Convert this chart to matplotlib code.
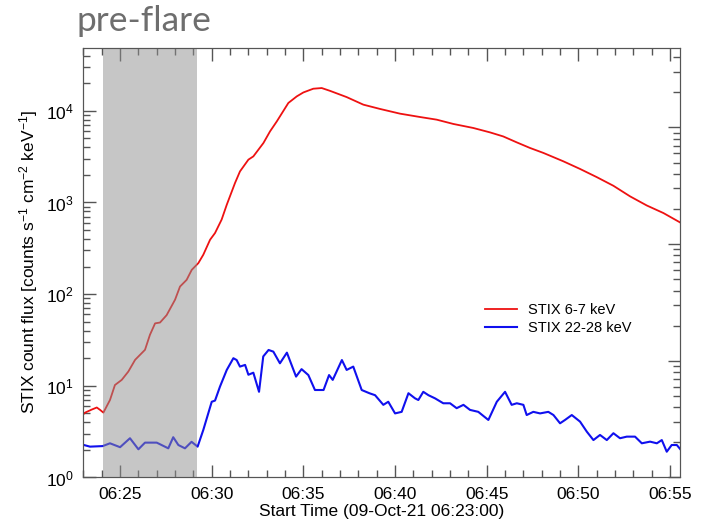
import datetime as dt

import matplotlib
matplotlib.use("Agg")
import matplotlib.pyplot as plt
from matplotlib.ticker import FuncFormatter, MultipleLocator

plt.rcParams["font.family"] = ["Liberation Sans", "DejaVu Sans"]
plt.rcParams["mathtext.fontset"] = "custom"
plt.rcParams["mathtext.rm"] = "Liberation Sans"
plt.rcParams["mathtext.it"] = "Liberation Sans"
plt.rcParams["mathtext.bf"] = "Liberation Sans:bold"

start = dt.datetime(2021, 10, 9, 6, 23, 0)

# minutes after 06:23:00
red_t = [0.0, 0.09, 0.45, 0.73, 0.91, 1.09, 1.45, 1.72, 2.09, 2.45, 2.82, 3.36,
         3.63, 3.91, 4.18, 4.54, 5.0, 5.27, 5.63, 5.91, 6.27, 6.54, 6.91, 7.18,
         7.54, 7.82, 8.27, 8.54, 9.0, 9.27, 9.82, 10.18, 10.55, 11.18, 11.64,
         12.0, 12.54, 13.0, 13.45, 14.36, 15.27, 16.18, 17.27, 18.36, 19.27,
         20.18, 21.27, 22.18, 22.9, 23.64, 24.36, 25.09, 26.18, 27.09, 28.0,
         28.91, 29.82, 30.73, 31.64, 32.55]
red_flux = [4.9, 5.1, 5.5, 5.8, 5.46, 5.1, 7.0, 10.2, 11.6, 14.3, 19.2, 24.7,
            36, 48, 49, 59, 87, 121, 143, 184, 218, 269, 392, 464,
            650, 944, 1630, 2180, 2930, 3180, 4450, 5960, 7660, 12170, 14360,
            15850, 17400, 17700, 16500, 14100, 11660, 10470, 9300, 8550, 8000,
            7180, 6490, 5810, 5250, 4520, 3930, 3470, 2810, 2320, 1890,
            1520, 1165, 927, 766, 605]

blue_t = [0.03, 0.36, 1.05, 1.45, 2.0, 2.54, 3.0, 3.36, 4.0, 4.63, 4.9, 5.18,
          5.54, 5.9, 6.23, 6.54, 7.0, 7.18, 7.45, 7.82, 8.18, 8.36, 8.54, 8.82,
          9.0, 9.27, 9.58, 9.81, 10.1, 10.36, 10.72, 11.1, 11.6, 11.9, 12.27,
          12.63, 13.1, 13.4, 13.6, 14.1, 14.36, 14.72, 15.18, 15.6, 15.91,
          16.36, 16.63, 17.0, 17.36, 17.73, 18.09, 18.27, 18.54, 18.82, 19.18,
          19.63, 20.0, 20.36, 20.73, 21.09, 21.54, 22.09, 22.55, 23.0, 23.36,
          23.64, 24.0, 24.18, 24.54, 24.91, 25.36, 25.64, 26.0, 26.27, 26.64,
          27.09, 27.46, 27.82, 28.18, 28.55, 28.91, 29.27, 29.64, 30.09, 30.46,
          30.91, 31.28, 31.55, 31.82, 32.09, 32.37, 32.59]
blue_flux = [2.26, 2.17, 2.2, 2.36, 2.14, 2.68, 2.03, 2.4, 2.4, 2.08, 2.75, 2.26,
             2.08, 2.45, 2.17, 3.3, 6.7, 6.9, 9.8, 14.9, 20, 19.1, 16.2, 16.9,
             13.2, 13.9, 8.6, 20.9, 24.6, 23.6, 17.6, 23, 12.6, 15.2, 13.1,
             9.0, 9.0, 13.1, 11.6, 19.1, 14.9, 16.2, 9.0, 8.3, 7.9,
             6.2, 6.7, 5.0, 5.2, 8.3, 7.3, 7.0, 8.6, 7.9, 7.3,
             6.45, 6.45, 5.7, 6.2, 5.46, 5.2, 4.24, 6.7, 8.6, 6.2,
             6.45, 6.2, 4.8, 5.2, 5.0, 5.2, 4.8, 3.9, 4.24, 4.8,
             4.07, 3.16, 2.56, 2.91, 2.56, 3.04, 2.68, 2.79, 2.79, 2.36,
             2.46, 2.36, 2.56, 1.91, 2.26, 2.26, 2.0]

preflare = (1.06, 6.22)

axis_col = "#555555"

fig = plt.figure(figsize=(7.11, 5.25), dpi=100)
ax = fig.add_axes([0.1173, 0.0905, 0.8398, 0.819])

ax.plot(red_t, red_flux, color="#ee1111", lw=1.3, label="STIX 6-7 keV", zorder=2)
ax.plot(blue_t, blue_flux, color="#1010ee", lw=1.5, label="STIX 22-28 keV", zorder=2)
ax.axvspan(*preflare, color="#8f8f8f", alpha=0.5, lw=0, zorder=3)

ax.set_yscale("log")
ax.set_ylim(1, 10 ** 4.69)
ax.set_xlim(0, 32.57)

ax.xaxis.set_major_locator(MultipleLocator(5, offset=2))
ax.xaxis.set_minor_locator(MultipleLocator(1))
ax.xaxis.set_major_formatter(FuncFormatter(
    lambda m, pos: (start + dt.timedelta(minutes=m)).strftime("%H:%M")))

for s in ax.spines.values():
    s.set_color(axis_col)
ax.tick_params(which="both", direction="in", color=axis_col, top=True,
               right=False, labelsize=12.5, labelcolor="black", pad=7)
ax.tick_params(which="major", length=9, width=1)
ax.tick_params(which="minor", length=5, width=1)

# right-hand axis carries its own (unlabelled) log scale
ax2 = ax.twinx()
ax2.set_yscale("log")
ax2.set_ylim(1, 10 ** 3.685)
ax2.tick_params(which="both", direction="in", color=axis_col, labelright=False)
ax2.tick_params(which="major", length=9, width=1)
ax2.tick_params(which="minor", length=5, width=1)
for s in ax2.spines.values():
    s.set_color(axis_col)

ax.set_xlabel("Start Time (09-Oct-21 06:23:00)", fontsize=12.5, labelpad=1)
ax.set_ylabel("STIX count flux [counts s$^{-1}$ cm$^{-2}$ keV$^{-1}$]",
              fontsize=12.5, labelpad=4)

ax.legend(loc="center left", bbox_to_anchor=(0.650, 0.369), frameon=False,
          fontsize=10.5, handlelength=2.2, handletextpad=0.75, labelspacing=0.25)

fig.text(0.108, 0.941, "pre-flare", fontsize=25.5, color="#6e6e6e",
         family="Lato", va="baseline")

fig.savefig("out.png", dpi=100)
